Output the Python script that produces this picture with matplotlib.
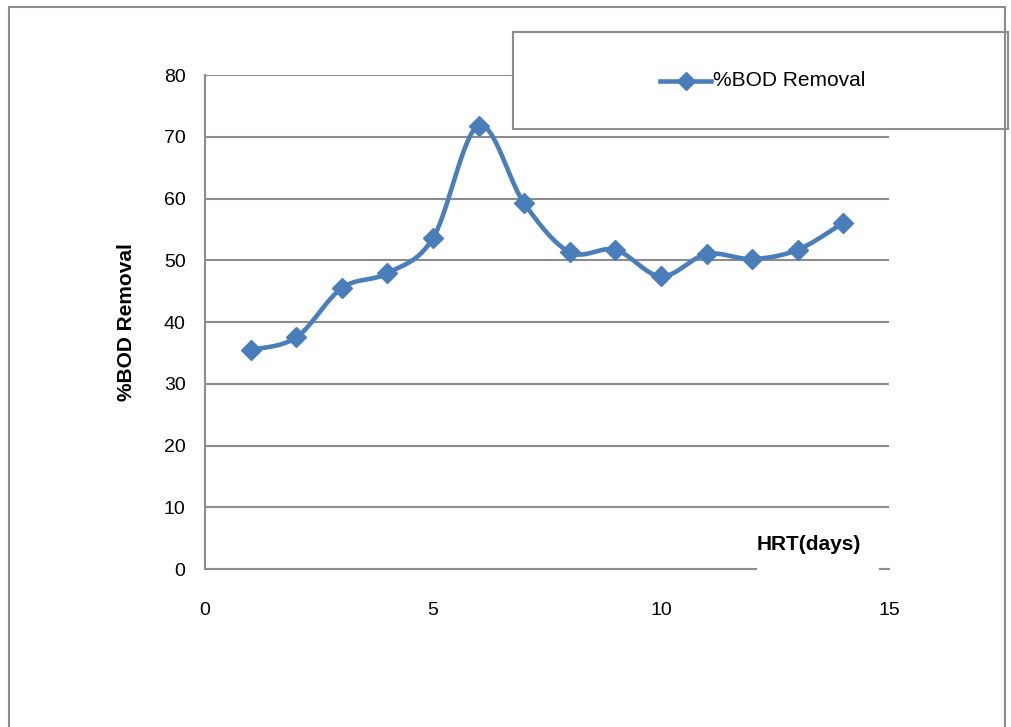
import numpy as np
import matplotlib
matplotlib.use("Agg")
from matplotlib import pyplot as plt
import matplotlib.patches as p

# HRT (days) vs BOD removal (%)
hrt_days = [1, 2, 3, 4, 5, 6, 7, 8, 9, 10, 11, 12, 13, 14]
bod_removal = [35.5, 37.5, 45.5, 47.9, 53.6, 71.8, 59.2, 51.3, 51.7, 47.4, 51.0, 50.2, 51.7, 56.1]
y_ticks = [0, 10, 20, 30, 40, 50, 60, 70, 80]
x_ticks = [0, 5, 10, 15]

LINE_BLUE = "#4a7ebb"
GRID_GRAY = "#8c8c8c"

plt.rcParams['font.family'] = ['Liberation Sans', 'DejaVu Sans']


def smooth_curve(x, y, steps=30):
    """Catmull-Rom spline through the points, like a spreadsheet 'smoothed line'."""
    x = np.asarray(x, float)
    y = np.asarray(y, float)
    px = np.concatenate([[x[0]], x, [x[-1]]])
    py = np.concatenate([[y[0]], y, [y[-1]]])
    xs, ys = [], []
    t = np.linspace(0, 1, steps)
    for i in range(1, len(px) - 2):
        for arr, out in ((px, xs), (py, ys)):
            p0, p1, p2, p3 = arr[i - 1], arr[i], arr[i + 1], arr[i + 2]
            c1 = p1 + (p2 - p0) / 6.0
            c2 = p2 - (p3 - p1) / 6.0
            seg = ((1 - t) ** 3 * p1 + 3 * (1 - t) ** 2 * t * c1
                   + 3 * (1 - t) * t ** 2 * c2 + t ** 3 * p2)
            out.extend(seg)
    return np.array(xs), np.array(ys)


fig = plt.figure(figsize=(10.12, 7.27), dpi=100)
ax = fig.add_axes([0.2026, 0.2173, 0.6759, 0.6795])

# outer chart border
fig.patches.append(p.Rectangle((9 / 1012, -0.1), 996 / 1012, 1.1 - 7 / 727, transform=fig.transFigure,
                               fill=False, edgecolor=GRID_GRAY, linewidth=1.5))

sx, sy = smooth_curve(hrt_days, bod_removal)
ax.plot(sx, sy, color=LINE_BLUE, linewidth=3.3, zorder=3, solid_capstyle='round')
ax.plot(hrt_days, bod_removal, linestyle='none', marker='D', markersize=10,
        color=LINE_BLUE, zorder=4)

ax.set_xlim(0, 15)
ax.set_ylim(0, 80)
ax.set_xticks(x_ticks)
ax.set_yticks(y_ticks)
ax.tick_params(length=0, labelsize=14, colors="black")
ax.tick_params(axis='x', pad=24)
ax.tick_params(axis='y', pad=14)
ax.grid(axis='y', color=GRID_GRAY, linewidth=1.5)
ax.set_axisbelow(True)
for side in ['top', 'right']:
    ax.spines[side].set_visible(False)
for side in ['left', 'bottom']:
    ax.spines[side].set_color(GRID_GRAY)
    ax.spines[side].set_linewidth(1.5)

ax.set_ylabel('%BOD Removal', fontsize=15, fontweight='bold', labelpad=20)

# x-axis title sits on the axis line, blanking the line behind it
ax.add_patch(p.Rectangle((12.1, -1.0), 2.68, 8.5, facecolor='white', edgecolor='none',
                         zorder=5, clip_on=False))
ax.text(12.1, 3.9, 'HRT(days)', fontsize=15, fontweight='bold', va='center', ha='left',
        zorder=6, clip_on=False)

# legend in a framed box in the top right
legend_ax = fig.add_axes([513 / 1012, 1 - 129 / 727, 495 / 1012, 97 / 727])
legend_ax.set_xticks([])
legend_ax.set_yticks([])
for s in legend_ax.spines.values():
    s.set_color(GRID_GRAY)
    s.set_linewidth(1.5)
legend_ax.set_xlim(0, 1)
legend_ax.set_ylim(0, 1)
legend_ax.plot([0.297, 0.4], [0.5, 0.5], color=LINE_BLUE, linewidth=3.3)
legend_ax.plot([0.349], [0.5], marker='D', markersize=9, color=LINE_BLUE)
legend_ax.text(0.405, 0.5, '%BOD Removal', fontsize=15, va='center', ha='left')

fig.savefig('out.png', dpi=100)
